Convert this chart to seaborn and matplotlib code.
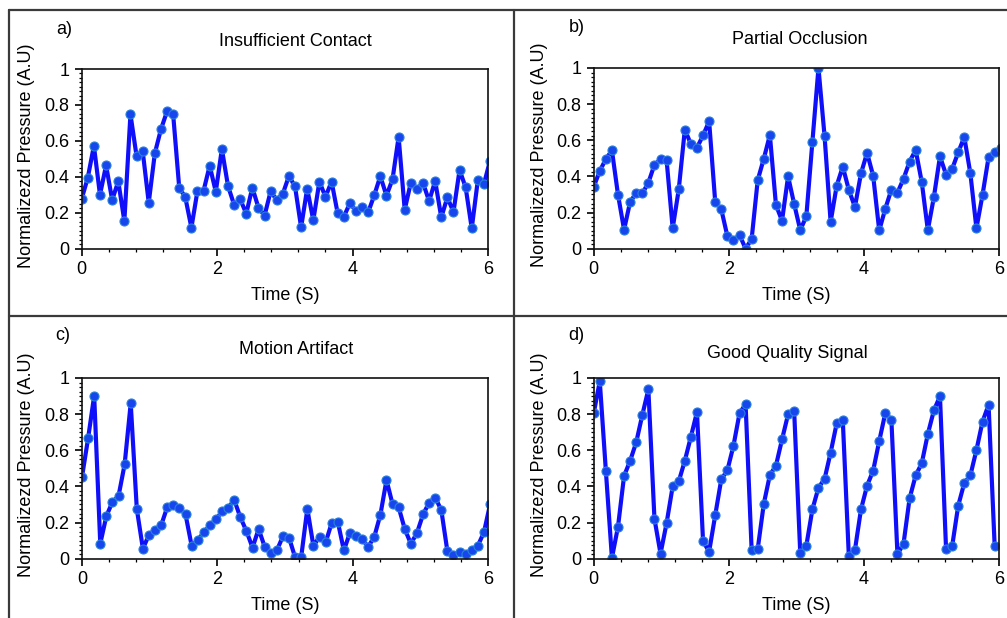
import numpy as np
import matplotlib
matplotlib.use('Agg')
import matplotlib.pyplot as plt
import seaborn as sns
from matplotlib.ticker import MultipleLocator, FixedLocator
from matplotlib.lines import Line2D

# ─────────────────────────────────────────────
# Data (sample step 0.09 s)
# ─────────────────────────────────────────────
dt = 0.09

insufficient = [0.278, 0.395, 0.573, 0.300, 0.464, 0.271, 0.375, 0.154, 0.748, 0.516,
                0.545, 0.256, 0.531, 0.664, 0.764, 0.750, 0.340, 0.286, 0.117, 0.323,
                0.323, 0.462, 0.317, 0.555, 0.350, 0.245, 0.276, 0.195, 0.340, 0.228,
                0.184, 0.319, 0.271, 0.306, 0.404, 0.347, 0.119, 0.334, 0.158, 0.373,
                0.289, 0.373, 0.197, 0.178, 0.252, 0.211, 0.234, 0.202, 0.297, 0.404,
                0.295, 0.386, 0.622, 0.217, 0.367, 0.332, 0.367, 0.265, 0.377, 0.174,
                0.286, 0.204, 0.438, 0.341, 0.113, 0.382, 0.360, 0.490]

occlusion = [0.343, 0.430, 0.496, 0.544, 0.299, 0.105, 0.260, 0.308, 0.306, 0.365,
             0.465, 0.494, 0.490, 0.113, 0.328, 0.659, 0.579, 0.559, 0.627, 0.705,
             0.260, 0.218, 0.070, 0.046, 0.077, 0.000, 0.054, 0.380, 0.498, 0.629,
             0.242, 0.155, 0.400, 0.247, 0.103, 0.179, 0.592, 1.000, 0.624, 0.148,
             0.349, 0.454, 0.325, 0.231, 0.417, 0.530, 0.404, 0.101, 0.221, 0.327,
             0.310, 0.387, 0.482, 0.546, 0.369, 0.103, 0.286, 0.511, 0.410, 0.441,
             0.533, 0.618, 0.417, 0.113, 0.297, 0.506, 0.535, 0.560]

motion = [0.452, 0.666, 0.902, 0.083, 0.236, 0.314, 0.347, 0.522, 0.860, 0.275,
          0.055, 0.133, 0.159, 0.185, 0.286, 0.299, 0.279, 0.245, 0.072, 0.103,
          0.146, 0.185, 0.218, 0.262, 0.282, 0.325, 0.229, 0.153, 0.061, 0.164,
          0.066, 0.030, 0.046, 0.125, 0.116, 0.007, 0.011, 0.277, 0.070, 0.122,
          0.090, 0.197, 0.205, 0.046, 0.144, 0.127, 0.107, 0.066, 0.122, 0.244,
          0.435, 0.301, 0.284, 0.164, 0.083, 0.142, 0.245, 0.310, 0.338, 0.269,
          0.041, 0.018, 0.037, 0.024, 0.048, 0.072, 0.146, 0.300]

good = [0.804, 0.982, 0.487, 0.004, 0.177, 0.458, 0.542, 0.644, 0.795, 0.937,
        0.221, 0.028, 0.197, 0.400, 0.428, 0.542, 0.675, 0.812, 0.096, 0.039,
        0.240, 0.439, 0.489, 0.624, 0.804, 0.856, 0.046, 0.054, 0.304, 0.463,
        0.515, 0.660, 0.799, 0.815, 0.031, 0.072, 0.273, 0.393, 0.441, 0.587,
        0.749, 0.768, 0.013, 0.048, 0.273, 0.404, 0.487, 0.651, 0.806, 0.769,
        0.024, 0.083, 0.334, 0.461, 0.528, 0.690, 0.821, 0.899, 0.054, 0.068,
        0.293, 0.419, 0.461, 0.601, 0.758, 0.852, 0.072]

titles = ['Insufficient Contact', 'Partial Occlusion', 'Motion Artifact', 'Good Quality Signal']
letters = ['a)', 'b)', 'c)', 'd)']
series = [insufficient, occlusion, motion, good]
x_ticks = [0, 2, 4, 6]
y_ticks = [0, 0.2, 0.4, 0.6, 0.8, 1]
y_tick_labels = ['0', '0.2', '0.4', '0.6', '0.8', '1']

# ─────────────────────────────────────────────
# Style
# ─────────────────────────────────────────────
sns.set_style('ticks')
plt.rcParams['font.family'] = ['Liberation Sans', 'DejaVu Sans']
plt.rcParams['text.color'] = 'black'
plt.rcParams['axes.labelcolor'] = 'black'
plt.rcParams['xtick.color'] = 'black'
plt.rcParams['ytick.color'] = 'black'

W, H = 1007, 618
fig = plt.figure(figsize=(W / 100, H / 100), dpi=100)

# axes boxes in pixels: left, top, right, bottom
boxes = [(81.7, 69, 488, 248.7), (593.7, 68, 998.7, 248.7),
         (82, 378, 488, 558.7), (593.7, 378, 998.7, 558.7)]
title_pos = [(295, 42), (800, 40), (296, 349), (787, 353)]
letter_pos = [(64, 29), (577, 28), (63, 336), (576, 335)]
ylabel_x = [27, 540, 27, 540]
xlabel_y = [296, 296, 606, 606]

line_col = '#0F0FFA'
face_col = '#1846EE'
edge_col = '#2A80DA'

for i, vals in enumerate(series):
    l, t, r, b = boxes[i]
    ax = fig.add_axes([l / W, 1 - b / H, (r - l) / W, (b - t) / H])
    tt = np.arange(len(vals)) * dt
    sns.lineplot(x=tt, y=vals, ax=ax, sort=False, color=line_col, lw=3,
                 marker='o', markersize=6.5, markerfacecolor=face_col,
                 markeredgecolor=edge_col, markeredgewidth=0.8)
    ax.set_xlim(0, 6)
    ax.set_ylim(0, 1)
    ax.xaxis.set_major_locator(FixedLocator(x_ticks))
    ax.xaxis.set_minor_locator(MultipleLocator(0.4))
    ax.set_yticks(y_ticks)
    ax.set_yticklabels(y_tick_labels)
    ax.yaxis.set_minor_locator(MultipleLocator(0.025))
    ax.tick_params(which='major', direction='out', length=5, width=1.2, labelsize=13, pad=4)
    ax.tick_params(which='minor', direction='out', length=2.5, width=0.9)
    for s in ax.spines.values():
        s.set_visible(True)
        s.set_linewidth(1.2)
        s.set_color('#111111')
    ax.set_xlabel('Time (S)', fontsize=13)
    ax.set_ylabel('Normalizezd Pressure (A.U)', fontsize=13)
    ax.xaxis.set_label_coords(0.5, -(xlabel_y[i] - b) / (b - t))
    ax.yaxis.set_label_coords((ylabel_x[i] - l) / (r - l), 0.52)
    ax.xaxis.label.set_va('center')
    ax.yaxis.label.set_va('center')
    tx, ty = title_pos[i]
    fig.text(tx / W, 1 - ty / H, titles[i], ha='center', va='center', fontsize=13)
    lx, ly = letter_pos[i]
    fig.text(lx / W, 1 - ly / H, letters[i], ha='center', va='center', fontsize=13)

# panel frame lines
frame = dict(color='#3a3a3a', lw=1.6)
fig.add_artist(Line2D([9 / W, 9 / W], [0, 1 - 10 / H], **frame))
fig.add_artist(Line2D([9 / W, 1], [1 - 10 / H, 1 - 10 / H], **frame))
fig.add_artist(Line2D([514 / W, 514 / W], [0, 1 - 10 / H], **frame))
fig.add_artist(Line2D([9 / W, 1], [1 - 316 / H, 1 - 316 / H], **frame))

fig.savefig('out.png', dpi=100, facecolor='white')
